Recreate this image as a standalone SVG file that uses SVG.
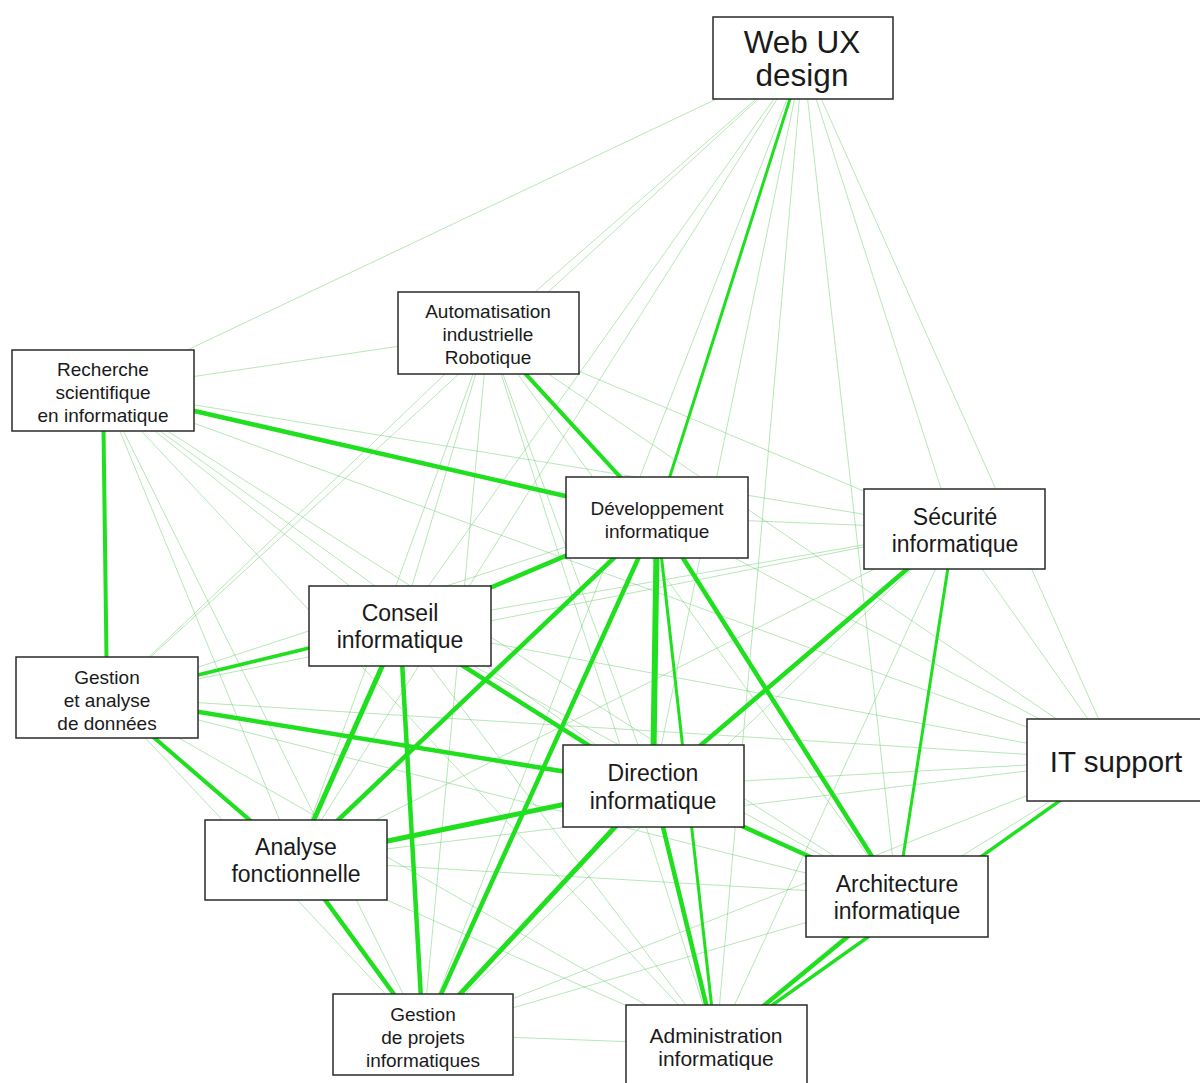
<svg xmlns="http://www.w3.org/2000/svg" width="1200" height="1083" viewBox="0 0 1200 1083">
<style>
.bg{fill:#ffffff}
.t{stroke:#6fcf6f;stroke-width:1;stroke-opacity:0.5;fill:none}
.k{stroke:#1fdf1f;fill:none;stroke-linecap:butt}
.box{fill:#ffffff;stroke:#2a2a2a;stroke-width:1.5}
text{font-family:"Liberation Sans",Arial,sans-serif;fill:#1a1a1a;text-anchor:middle}
.s{font-size:19px}
.m{font-size:23px}
.a{font-size:21px}
.l{font-size:31.5px}
.it{font-size:29.5px}
</style>
<rect class="bg" x="0" y="0" width="1200" height="1083"/>
<g id="connectors">
<!-- thin edges -->
<line class="t" x1="803" y1="58" x2="488" y2="333"/>
<line class="t" x1="803" y1="58" x2="103" y2="390"/>
<line class="t" x1="803" y1="58" x2="954" y2="529"/>
<line class="t" x1="803" y1="58" x2="400" y2="626"/>
<line class="t" x1="803" y1="58" x2="107" y2="697"/>
<line class="t" x1="803" y1="58" x2="653" y2="786"/>
<line class="t" x1="803" y1="58" x2="1117" y2="760"/>
<line class="t" x1="803" y1="58" x2="296" y2="860"/>
<line class="t" x1="803" y1="58" x2="897" y2="896"/>
<line class="t" x1="803" y1="58" x2="423" y2="1034"/>
<line class="t" x1="803" y1="58" x2="716" y2="1045"/>
<line class="t" x1="488" y1="333" x2="103" y2="390"/>
<line class="t" x1="488" y1="333" x2="954" y2="529"/>
<line class="t" x1="488" y1="333" x2="400" y2="626"/>
<line class="t" x1="488" y1="333" x2="107" y2="697"/>
<line class="t" x1="488" y1="333" x2="653" y2="786"/>
<line class="t" x1="488" y1="333" x2="1117" y2="760"/>
<line class="t" x1="488" y1="333" x2="296" y2="860"/>
<line class="t" x1="488" y1="333" x2="897" y2="896"/>
<line class="t" x1="488" y1="333" x2="423" y2="1034"/>
<line class="t" x1="488" y1="333" x2="716" y2="1045"/>
<line class="t" x1="103" y1="390" x2="954" y2="529"/>
<line class="t" x1="103" y1="390" x2="400" y2="626"/>
<line class="t" x1="103" y1="390" x2="653" y2="786"/>
<line class="t" x1="103" y1="390" x2="1117" y2="760"/>
<line class="t" x1="103" y1="390" x2="296" y2="860"/>
<line class="t" x1="103" y1="390" x2="897" y2="896"/>
<line class="t" x1="103" y1="390" x2="423" y2="1034"/>
<line class="t" x1="103" y1="390" x2="716" y2="1045"/>
<line class="t" x1="657" y1="517" x2="954" y2="529"/>
<line class="t" x1="657" y1="517" x2="107" y2="697"/>
<line class="t" x1="657" y1="517" x2="1117" y2="760"/>
<line class="t" x1="954" y1="529" x2="400" y2="626"/>
<line class="t" x1="954" y1="529" x2="107" y2="697"/>
<line class="t" x1="954" y1="529" x2="1117" y2="760"/>
<line class="t" x1="954" y1="529" x2="296" y2="860"/>
<line class="t" x1="954" y1="529" x2="423" y2="1034"/>
<line class="t" x1="954" y1="529" x2="716" y2="1045"/>
<line class="t" x1="400" y1="626" x2="1117" y2="760"/>
<line class="t" x1="400" y1="626" x2="897" y2="896"/>
<line class="t" x1="400" y1="626" x2="716" y2="1045"/>
<line class="t" x1="107" y1="697" x2="1117" y2="760"/>
<line class="t" x1="107" y1="697" x2="897" y2="896"/>
<line class="t" x1="107" y1="697" x2="423" y2="1034"/>
<line class="t" x1="107" y1="697" x2="716" y2="1045"/>
<line class="t" x1="653" y1="786" x2="1117" y2="760"/>
<line class="t" x1="1117" y1="760" x2="296" y2="860"/>
<line class="t" x1="1117" y1="760" x2="897" y2="896"/>
<line class="t" x1="1117" y1="760" x2="423" y2="1034"/>
<line class="t" x1="296" y1="860" x2="897" y2="896"/>
<line class="t" x1="296" y1="860" x2="716" y2="1045"/>
<line class="t" x1="897" y1="896" x2="423" y2="1034"/>
<line class="t" x1="423" y1="1034" x2="716" y2="1045"/>
<!-- strong edges -->
<line class="k" stroke-width="3" x1="803" y1="58" x2="657" y2="517"/>
<line class="k" stroke-width="4" x1="488" y1="333" x2="657" y2="517"/>
<line class="k" stroke-width="4.5" x1="103" y1="390" x2="657" y2="517"/>
<line class="k" stroke-width="4" x1="103" y1="390" x2="107" y2="697"/>
<line class="k" stroke-width="6" x1="657" y1="517" x2="653" y2="786"/>
<line class="k" stroke-width="4.5" x1="657" y1="517" x2="400" y2="626"/>
<line class="k" stroke-width="4.5" x1="657" y1="517" x2="296" y2="860"/>
<line class="k" stroke-width="4.5" x1="657" y1="517" x2="423" y2="1034"/>
<line class="k" stroke-width="4.5" x1="657" y1="517" x2="897" y2="896"/>
<line class="k" stroke-width="3" x1="657" y1="517" x2="716" y2="1045"/>
<line class="k" stroke-width="3.5" x1="400" y1="626" x2="107" y2="697"/>
<line class="k" stroke-width="5" x1="400" y1="626" x2="296" y2="860"/>
<line class="k" stroke-width="4.5" x1="400" y1="626" x2="423" y2="1034"/>
<line class="k" stroke-width="4.5" x1="400" y1="626" x2="653" y2="786"/>
<line class="k" stroke-width="4.5" x1="107" y1="697" x2="653" y2="786"/>
<line class="k" stroke-width="4" x1="107" y1="697" x2="296" y2="860"/>
<line class="k" stroke-width="5" x1="653" y1="786" x2="296" y2="860"/>
<line class="k" stroke-width="5" x1="653" y1="786" x2="423" y2="1034"/>
<line class="k" stroke-width="4.5" x1="653" y1="786" x2="897" y2="896"/>
<line class="k" stroke-width="4.5" x1="653" y1="786" x2="716" y2="1045"/>
<line class="k" stroke-width="4.5" x1="954" y1="529" x2="653" y2="786"/>
<line class="k" stroke-width="3" x1="954" y1="529" x2="897" y2="896"/>
<line class="k" stroke-width="4.5" x1="897" y1="896" x2="716" y2="1045"/>
<line class="k" stroke-width="3.5" x1="1117" y1="760" x2="716" y2="1045"/>
<line class="k" stroke-width="4.5" x1="296" y1="860" x2="423" y2="1034"/>
</g>
<g id="node-webux">
<rect class="box" x="713" y="17" width="180" height="82"/>
<text class="l" x="802" y="53">Web UX</text>
<text class="l" x="802" y="86">design</text>
</g>
<g id="node-automatisation">
<rect class="box" x="398" y="292" width="181" height="82"/>
<text class="s" x="488" y="318">Automatisation</text>
<text class="s" x="488" y="341">industrielle</text>
<text class="s" x="488" y="364">Robotique</text>
</g>
<g id="node-recherche">
<rect class="box" x="12" y="350" width="182" height="81"/>
<text class="s" x="103" y="376">Recherche</text>
<text class="s" x="103" y="399">scientifique</text>
<text class="s" x="103" y="422">en informatique</text>
</g>
<g id="node-developpement">
<rect class="box" x="566" y="477" width="182" height="81"/>
<text class="s" x="657" y="515">Développement</text>
<text class="s" x="657" y="538">informatique</text>
</g>
<g id="node-securite">
<rect class="box" x="864" y="489" width="181" height="80"/>
<text class="m" x="955" y="525">Sécurité</text>
<text class="m" x="955" y="552">informatique</text>
</g>
<g id="node-conseil">
<rect class="box" x="309" y="586" width="182" height="80"/>
<text class="m" x="400" y="621">Conseil</text>
<text class="m" x="400" y="648">informatique</text>
</g>
<g id="node-gestion-donnees">
<rect class="box" x="16" y="657" width="182" height="81"/>
<text class="s" x="107" y="684">Gestion</text>
<text class="s" x="107" y="707">et analyse</text>
<text class="s" x="107" y="730">de données</text>
</g>
<g id="node-direction">
<rect class="box" x="563" y="745" width="181" height="82"/>
<text class="m" x="653" y="781">Direction</text>
<text class="m" x="653" y="809">informatique</text>
</g>
<g id="node-itsupport">
<rect class="box" x="1027" y="719" width="181" height="82"/>
<text class="it" x="1116" y="772">IT support</text>
</g>
<g id="node-analyse">
<rect class="box" x="205" y="820" width="182" height="80"/>
<text class="m" x="296" y="855">Analyse</text>
<text class="m" x="296" y="882">fonctionnelle</text>
</g>
<g id="node-architecture">
<rect class="box" x="806" y="856" width="182" height="81"/>
<text class="m" x="897" y="892">Architecture</text>
<text class="m" x="897" y="919">informatique</text>
</g>
<g id="node-gestion-projets">
<rect class="box" x="333" y="994" width="180" height="81"/>
<text class="s" x="423" y="1021">Gestion</text>
<text class="s" x="423" y="1044">de projets</text>
<text class="s" x="423" y="1067">informatiques</text>
</g>
<g id="node-administration">
<rect class="box" x="626" y="1005" width="181" height="81"/>
<text class="a" x="716" y="1043">Administration</text>
<text class="a" x="716" y="1066">informatique</text>
</g>
</svg>
